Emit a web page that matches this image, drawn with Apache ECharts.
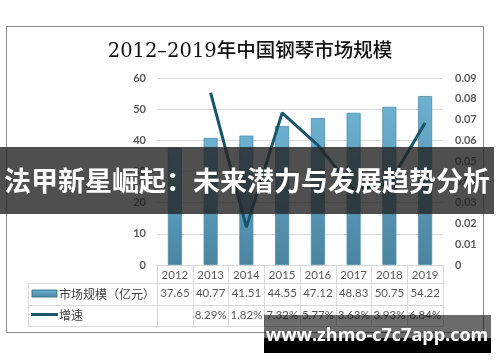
<!DOCTYPE html>
<html><head><meta charset="utf-8">
<script src="https://cdn.jsdelivr.net/npm/echarts@6/dist/echarts.min.js"></script>
<style>html,body{margin:0;padding:0;background:#fff;}#c{width:500px;height:362px;}</style>
</head><body><div id="c"></div>
<script>
var years = ['2012','2013','2014','2015','2016','2017','2018','2019'];
var marketSize = [37.65, 40.77, 41.51, 44.55, 47.12, 48.83, 50.75, 54.22];
var growth = [null, 0.0829, 0.0182, 0.0732, 0.0577, 0.0363, 0.0393, 0.0684];
var growthLabels = ['', '8.29%', '1.82%', '7.32%', '5.77%', '3.63%', '3.93%', '6.84%'];
var seriesNames = ['市场规模（亿元）', '增速'];
var titleText = '2012\u20132019年中国钢琴市场规模';
var bannerText = '法甲新星崛起：未来潜力与发展趋势分析';
var watermarkText = 'www.zhmo-c7c7app.com';

var chart = echarts.init(document.getElementById('c'), null, {renderer:'canvas'});
var txt = '#595959', gridC = '#d9d9d9';
var numFont = 'Lato, "Noto Sans", sans-serif';
var barGrad = new echarts.graphic.LinearGradient(0,0,0,1,[{offset:0,color:'#6db1d1'},{offset:1,color:'#4a84a0'}]);
var G = {l:157, r:443, t:78, b:265};
function lbl(){return {interval:0,hideOverlap:false,margin:0,fontSize:11.5,color:txt,fontFamily:numFont};}
chart.setOption({
  animation:false,
  title:{text:titleText,left:'center',top:37,textStyle:{fontFamily:'"DejaVu Serif","Liberation Serif","Noto Sans CJK SC",serif',fontSize:19.5,fontWeight:500,color:'#111'}},
  grid:{left:G.l,right:500-G.r,top:G.t,bottom:362-G.b},
  xAxis:[
    {type:'category',data:years,axisLine:{lineStyle:{color:gridC}},
     axisTick:{show:true,interval:0,length:61,lineStyle:{color:gridC}},
     axisLabel:Object.assign(lbl(),{margin:4})},
    {type:'category',data:marketSize.map(function(v){return v.toFixed(2);}),position:'bottom',offset:22,
     axisLine:{show:false},axisTick:{show:false},axisLabel:lbl()},
    {type:'category',data:growthLabels,position:'bottom',offset:44,
     axisLine:{show:false},axisTick:{show:false},axisLabel:lbl()}
  ],
  yAxis:[
    {type:'value',min:0,max:60,interval:10,axisLine:{show:false},axisTick:{show:false},
     splitLine:{lineStyle:{color:gridC}},axisLabel:{margin:11,fontSize:11,fontWeight:'bold',color:txt,fontFamily:numFont}},
    {type:'value',min:0,max:0.09,interval:0.01,position:'right',axisLine:{show:false},axisTick:{show:false},
     splitLine:{show:false},axisLabel:{margin:12,fontSize:11,fontWeight:'bold',color:txt,fontFamily:numFont,
       formatter:function(v){return v===0?'0':(+v.toFixed(2)).toString();}}}
  ],
  series:[
    {name:seriesNames[0],type:'bar',data:marketSize,barWidth:14,itemStyle:{color:barGrad,borderColor:'#4d8cab',borderWidth:0.8}},
    {name:seriesNames[1],type:'line',yAxisIndex:1,data:growth,showSymbol:false,symbol:'none',connectNulls:false,
     lineStyle:{color:'#17566c',width:3}}
  ],
  graphic:[
    {type:'rect',shape:{x:6.5,y:26.5,width:477,height:306},style:{fill:'none',stroke:'#8c8c8c',lineWidth:1},z:1},
    {type:'line',shape:{x1:28,y1:283.5,x2:G.r,y2:283.5},style:{stroke:gridC,lineWidth:1}},
    {type:'line',shape:{x1:28,y1:305.5,x2:G.r,y2:305.5},style:{stroke:gridC,lineWidth:1}},
    {type:'line',shape:{x1:28,y1:326.5,x2:G.r,y2:326.5},style:{stroke:gridC,lineWidth:1}},
    {type:'line',shape:{x1:28.5,y1:283,x2:28.5,y2:327},style:{stroke:gridC,lineWidth:1}},
    {type:'rect',shape:{x:32,y:290,width:25,height:7},style:{fill:barGrad,stroke:'#3f7893',lineWidth:1}},
    {type:'text',x:59,y:294,style:{text:seriesNames[0],font:'12px "Noto Sans CJK SC",sans-serif',fill:'#404040',verticalAlign:'middle'}},
    {type:'line',shape:{x1:31,y1:314.5,x2:58,y2:314.5},style:{stroke:'#17566c',lineWidth:3}},
    {type:'text',x:59,y:315,style:{text:seriesNames[1],font:'12px "Noto Sans CJK SC",sans-serif',fill:'#404040',verticalAlign:'middle'}},
    {type:'rect',shape:{x:0,y:147,width:494,height:67},style:{fill:'rgba(35,35,35,0.8)'},z:100},
    {type:'text',x:247,y:181,z:101,style:{text:bannerText,font:'bold 27px "Noto Sans CJK SC",sans-serif',fill:'#fff',align:'center',verticalAlign:'middle'}},
    {type:'rect',shape:{x:264,y:315,width:227,height:23},style:{fill:'rgba(0,0,0,0.58)'},z:100},
    {type:'rect',shape:{x:264,y:338,width:227,height:15},style:{fill:'#000'},z:100},
    {type:'text',x:377,y:336,z:101,style:{text:watermarkText,font:'bold 18px "Open Sans","DejaVu Sans",sans-serif',fill:'#fff',align:'center',verticalAlign:'middle'}}
  ]
});
</script></body></html>
